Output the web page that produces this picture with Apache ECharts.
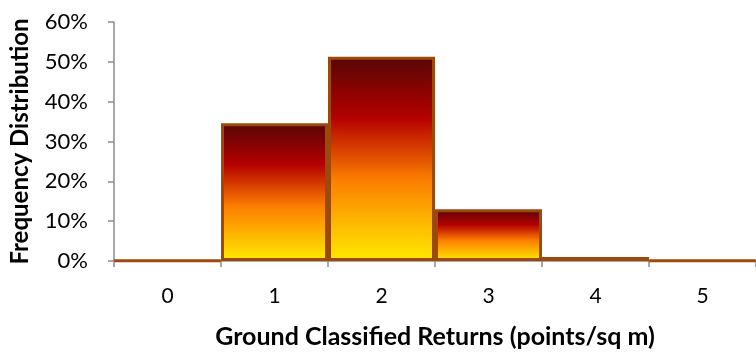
<!DOCTYPE html>
<html>
<head>
<meta charset="utf-8">
<script src="https://cdn.jsdelivr.net/npm/echarts@6/dist/echarts.min.js"></script>
<style>
  html, body { margin: 0; padding: 0; background: #fff; }
  #chart { width: 756px; height: 354px; }
</style>
</head>
<body>
<div id="chart"></div>
<script>
// Return density classes (points per square metre)
const categories = ['0', '1', '2', '3', '4', '5'];
// Share of cells in each class, percent
const frequency = [0.1, 34.6, 51.3, 13.0, 1.0, 0.1];
const yTicks = [0, 10, 20, 30, 40, 50, 60];

const FONT = 'Lato, "Open Sans", sans-serif';

const chart = echarts.init(document.getElementById('chart'));
chart.setOption({
  animation: false,
  grid: { left: 114, right: 0, top: 22, bottom: 89 },
  xAxis: {
    type: 'category',
    data: categories,
    boundaryGap: true,
    name: 'Ground Classified Returns (points/sq m)',
    nameLocation: 'middle',
    nameGap: 63,
    nameTextStyle: { fontFamily: FONT, fontSize: 25, fontWeight: 'bold', color: '#000' },
    axisLine: { lineStyle: { color: '#8c8c8c', width: 1.5 } },
    axisTick: { show: true, alignWithLabel: false, length: 6, lineStyle: { color: '#8c8c8c', width: 1.5 } },
    axisLabel: { fontFamily: FONT, fontSize: 21, color: '#000', margin: 25 }
  },
  yAxis: {
    type: 'value',
    min: yTicks[0],
    max: yTicks[yTicks.length - 1],
    interval: 10,
    name: 'Frequency Distribution',
    nameLocation: 'middle',
    nameGap: 82,
    nameTextStyle: { fontFamily: FONT, fontSize: 24, fontWeight: 'bold', color: '#000' },
    axisLine: { show: true, lineStyle: { color: '#8c8c8c', width: 1.5 } },
    axisTick: { show: true, length: 6, lineStyle: { color: '#8c8c8c', width: 1.5 } },
    axisLabel: { fontFamily: FONT, fontSize: 22, color: '#000', margin: 26, formatter: v => v + '%' },
    splitLine: { show: false }
  },
  series: [{
    type: 'bar',
    data: frequency,
    barCategoryGap: '0%',
    itemStyle: {
      borderColor: '#9c4a0c',
      borderWidth: 3,
      color: new echarts.graphic.LinearGradient(0, 0, 0, 1, [
        { offset: 0, color: '#560606' },
        { offset: 0.3, color: '#b40000' },
        { offset: 0.6, color: '#fb7d00' },
        { offset: 1, color: '#ffea00' }
      ])
    }
  }]
});
</script>
</body>
</html>
